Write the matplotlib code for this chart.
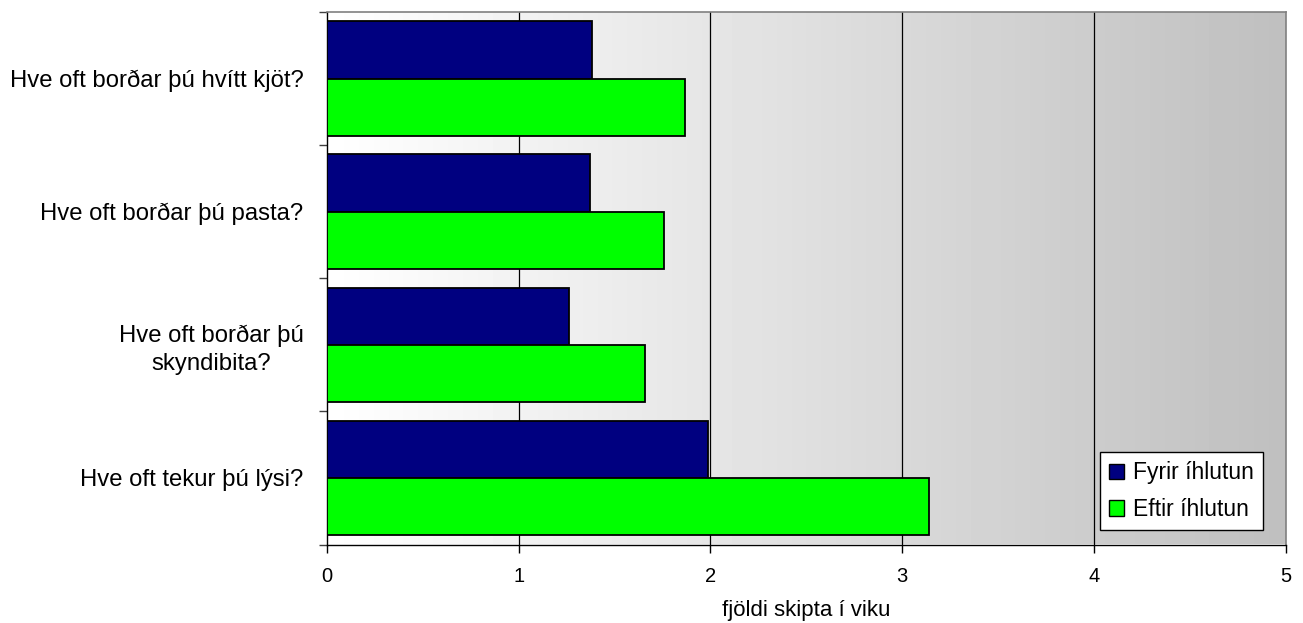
import matplotlib
matplotlib.use("Agg")
import matplotlib.pyplot as plt
import numpy as np

plt.rcParams['font.family'] = ['Liberation Sans', 'DejaVu Sans']

categories = ["Hve oft borðar þú hvítt kjöt?", "Hve oft borðar þú pasta?",
              "Hve oft borðar þú\nskyndibita?", "Hve oft tekur þú lýsi?"]
fyrir = [1.38, 1.37, 1.26, 1.99]
eftir = [1.87, 1.76, 1.66, 3.14]
series_names = ["Fyrir íhlutun", "Eftir íhlutun"]
xticks = [0, 1, 2, 3, 4, 5]
xlabel = "fjöldi skipta í viku"

fig = plt.figure(figsize=(13.03, 6.23), dpi=100)
ax = fig.add_axes([327/1303, 1-544.5/623, (1285.5-327)/1303, (544.5-12)/623])

# gradient background
grad = np.linspace(1.0, 0.75, 256).reshape(1, -1)
ax.imshow(grad, cmap='gray', vmin=0, vmax=1, aspect='auto',
          extent=[0, 5, -0.5, len(categories)-0.5], zorder=0, interpolation='bilinear')

y = np.arange(len(categories))
h = 0.43
ax.barh(y - h/2, fyrir, height=h, color='#000080', edgecolor='black', linewidth=1.3,
        label=series_names[0], zorder=3)
ax.barh(y + h/2, eftir, height=h, color='#00ff00', edgecolor='black', linewidth=1.3,
        label=series_names[1], zorder=3)

ax.set_xlim(0, 5)
ax.set_ylim(len(categories)-0.5, -0.5)
ax.set_xticks(xticks)
ax.set_xticklabels([str(t) for t in xticks])
ax.set_yticks(y)
ax.set_yticklabels(categories, fontsize=17.2)
for lab in ax.get_yticklabels():
    lab.set_multialignment('center')
    lab.set_linespacing(1.35)
ax.set_yticks(np.arange(-0.5, len(categories)), minor=True)
ax.tick_params(axis='y', which='major', length=0, pad=17)
ax.tick_params(axis='y', which='minor', length=6, width=1, color='#404040', direction='out')
ax.tick_params(axis='x', length=6, width=1, direction='out', pad=10, labelsize=14.5)
ax.set_xlabel(xlabel, fontsize=16, labelpad=10)

for xv in xticks[1:-1]:
    ax.axvline(xv, color='black', linewidth=0.9, zorder=1)

for s in ['top', 'right']:
    ax.spines[s].set_color('#808080')
    ax.spines[s].set_linewidth(1.2)
for s in ['left', 'bottom']:
    ax.spines[s].set_color('black')
    ax.spines[s].set_linewidth(1.0)

leg = ax.legend(loc='lower right', bbox_to_anchor=(0.977, 0.027), borderaxespad=0,
                fancybox=False, framealpha=1, edgecolor='black', fontsize=16.5,
                handlelength=0.65, handleheight=0.65, handletextpad=0.4,
                borderpad=0.4, labelspacing=0.6)
leg.get_frame().set_linewidth(1.0)
for p in leg.get_patches():
    p.set_linewidth(1.0)

fig.savefig("out.png", dpi=100)
